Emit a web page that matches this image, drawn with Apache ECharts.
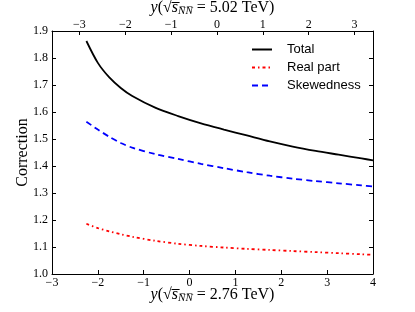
<!DOCTYPE html>
<html>
<head>
<meta charset="utf-8">
<script src="https://cdn.jsdelivr.net/npm/echarts@6/dist/echarts.min.js"></script>
<style>html,body{margin:0;padding:0;background:#fff;}#c{width:415px;height:312px;}</style>
</head>
<body>
<div id="c"></div>
<script>
var xValues = [-2.25, -2, -1.75, -1.5, -1.25, -0.75, -0.25, 0.25, 0.75, 1.25, 1.75, 2.25, 2.75, 3.25, 3.75, 4];
var totalValues = [1.863, 1.782, 1.728, 1.689, 1.659, 1.616, 1.585, 1.558, 1.535, 1.513, 1.491, 1.472, 1.456, 1.442, 1.428, 1.421];
var realPartValues = [1.186, 1.170, 1.158, 1.147, 1.138, 1.123, 1.112, 1.104, 1.098, 1.093, 1.089, 1.085, 1.081, 1.077, 1.073, 1.071];
var skewednessValues = [1.564, 1.535, 1.508, 1.485, 1.468, 1.444, 1.426, 1.408, 1.392, 1.377, 1.364, 1.353, 1.344, 1.336, 1.328, 1.324];
var bottomTicks = [-3, -2, -1, 0, 1, 2, 3, 4];
var topTicks = [-3, -2, -1, 0, 1, 2, 3];
var rapidityShift = 0.598; // ln(5.02/2.76)

function pairs(ys) { return xValues.map(function (x, i) { return [x, ys[i]]; }); }
function fmtNum(v) { var s = String(Math.round(v)); return s.replace('-', '\u2212'); }

var serif = '"Liberation Serif", "DejaVu Serif", serif';
var nameRich = {
  i: { fontFamily: serif, fontStyle: 'italic', fontSize: 16, color: '#000' },
  n: { fontFamily: serif, fontSize: 16, color: '#000' },
  sub: { fontFamily: serif, fontStyle: 'italic', fontSize: 11, color: '#000', padding: [7, 0, 0, 0] }
};
function energyName(e) {
  return '{i|y}{n|(\u221A}{i|s\u0305}{sub|N\u0305N\u0305}{n| = ' + e + ' TeV)}';
}

var chart = echarts.init(document.getElementById('c'), null, { renderer: 'canvas' });
var axisLineStyle = { color: '#000', width: 1 };
chart.setOption({
  animation: false,
  backgroundColor: '#fff',
  grid: { left: 52, right: 42, top: 31, bottom: 38, containLabel: false, outerBoundsMode: 'none' },
  legend: {
    orient: 'vertical', left: 251, top: 43, padding: 0,
    itemWidth: 20, itemHeight: 14, itemGap: 5,
    itemStyle: { opacity: 0 },
    textStyle: { fontFamily: '"Liberation Sans", Arial, sans-serif', fontSize: 13, color: '#000', padding: [0, 0, 0, 10] },
    data: ['Total', 'Real part', 'Skewedness']
  },
  xAxis: [
    {
      type: 'value', position: 'bottom', min: -3, max: 4, interval: 1,
      axisLine: { show: true, onZero: false, lineStyle: axisLineStyle },
      axisTick: { show: true, inside: true, length: 4, lineStyle: axisLineStyle, customValues: bottomTicks },
      axisLabel: { customValues: bottomTicks, formatter: fmtNum, fontFamily: serif, fontSize: 12, color: '#000', margin: 3 },
      splitLine: { show: false },
      name: energyName('2.76'), nameLocation: 'middle', nameGap: 12, nameMoveOverlap: false,
      nameTextStyle: { rich: nameRich }
    },
    {
      type: 'value', position: 'top', min: -3 - rapidityShift, max: 4 - rapidityShift,
      axisLine: { show: true, onZero: false, lineStyle: axisLineStyle },
      axisTick: { show: true, inside: true, length: 4, lineStyle: axisLineStyle, customValues: topTicks },
      axisLabel: { customValues: topTicks, formatter: fmtNum, fontFamily: serif, fontSize: 12, color: '#000', margin: 0 },
      splitLine: { show: false },
      name: energyName('5.02'), nameLocation: 'middle', nameGap: 14, nameMoveOverlap: false,
      nameTextStyle: { rich: nameRich }
    }
  ],
  yAxis: [
    {
      type: 'value', position: 'left', min: 1.0, max: 1.9, interval: 0.1,
      axisLine: { show: true, onZero: false, lineStyle: axisLineStyle },
      axisTick: { show: true, inside: true, length: 4, lineStyle: axisLineStyle },
      axisLabel: { formatter: function (v) { return v.toFixed(1); }, fontFamily: serif, fontSize: 12, color: '#000', margin: 4 },
      splitLine: { show: false },
      name: 'Correction', nameLocation: 'middle', nameGap: 21, nameMoveOverlap: false,
      nameTextStyle: { fontFamily: serif, fontSize: 16, color: '#000' }
    },
    {
      type: 'value', position: 'right', min: 1.0, max: 1.9, interval: 0.1,
      axisLine: { show: true, onZero: false, lineStyle: axisLineStyle },
      axisTick: { show: true, inside: true, length: 4, lineStyle: axisLineStyle },
      axisLabel: { show: false },
      splitLine: { show: false }
    }
  ],
  series: [
    {
      name: 'Total', type: 'line', xAxisIndex: 0, yAxisIndex: 0, data: pairs(totalValues),
      symbol: 'none', smooth: 0.3,
      lineStyle: { color: '#000', width: 1.8, type: 'solid' }, itemStyle: { color: '#000' }
    },
    {
      name: 'Real part', type: 'line', xAxisIndex: 0, yAxisIndex: 0, data: pairs(realPartValues),
      symbol: 'none', smooth: 0.3,
      lineStyle: { color: '#ff0000', width: 1.8, type: [3, 3, 1.5, 3] }, itemStyle: { color: '#ff0000' }
    },
    {
      name: 'Skewedness', type: 'line', xAxisIndex: 0, yAxisIndex: 0, data: pairs(skewednessValues),
      symbol: 'none', smooth: 0.3,
      lineStyle: { color: '#0000ff', width: 1.8, type: [6, 4] }, itemStyle: { color: '#0000ff' }
    }
  ]
});
</script>
</body>
</html>
